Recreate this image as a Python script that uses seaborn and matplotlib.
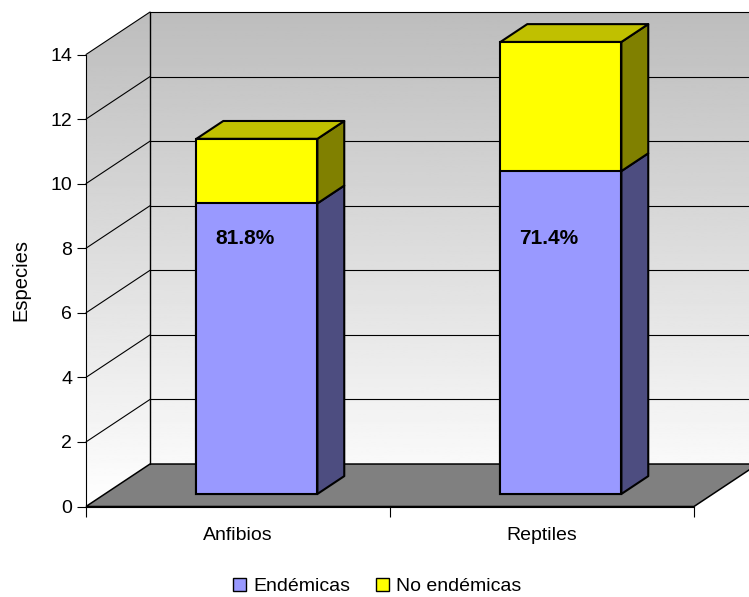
import numpy as np
import pandas as pd
import matplotlib
matplotlib.use("Agg")
import matplotlib.pyplot as plt
from matplotlib.patches import Polygon, Patch
import seaborn as sns

categories = ["Anfibios", "Reptiles"]
endemicas = [9, 10]
no_endemicas = [2, 4]
porcentajes = ["81.8%", "71.4%"]
y_ticks = [0, 2, 4, 6, 8, 10, 12, 14]

sns.set_style("white")
plt.rcParams["font.family"] = ["Liberation Sans", "DejaVu Sans"]

W, H = 749, 597
fig = plt.figure(figsize=(W / 100, H / 100), dpi=100)
ax = fig.add_axes([86 / W, 1 - 506.5 / H, 608 / W, 452 / H])
ax.patch.set_alpha(0)

# depth of the fake 3d box, in data units
depth_x = 64 / 304
depth_y = 42.5 / 32.3
# where the bars sit inside that depth
bar_start = 0.295
bar_depth = 0.42
bar_width = 0.398

xmin, xmax = -0.5, 1.5
ymin, ymax = 0, 14


def shift(x, y, d):
    return (x + d * depth_x, y + d * depth_y)


def poly(points, **kw):
    p = Polygon(points, closed=True, clip_on=False, **kw)
    ax.add_patch(p)
    return p


# walls with the grey to white gradient
walls = poly([(xmin, ymin), shift(xmin, ymin, 1), shift(xmax, ymin, 1),
              shift(xmax, ymax, 1), shift(xmin, ymax, 1), (xmin, ymax)],
             facecolor="none", edgecolor="none", zorder=0)
grad = ax.imshow(np.linspace(0.74, 1, 256).reshape(-1, 1), cmap="gray", vmin=0, vmax=1,
                 extent=[xmin, xmax + depth_x, ymin, ymax + depth_y],
                 origin="upper", aspect="auto", zorder=0)
grad.set_clip_box(fig.bbox)
grad.set_clip_path(walls)

# floor
poly([(xmin, ymin), shift(xmin, ymin, 1), shift(xmax, ymin, 1), (xmax, ymin)],
     facecolor="#808080", edgecolor="black", linewidth=1.1, zorder=1)

# grid lines on both walls
line_kw = dict(color="black", linewidth=0.8, clip_on=False, zorder=2)
for t in y_ticks[1:]:
    a = shift(xmin, t, 1)
    b = shift(xmax, t, 1)
    ax.plot([xmin, a[0]], [t, a[1]], **line_kw)
    ax.plot([a[0], b[0]], [a[1], b[1]], **line_kw)
a = shift(xmin, ymin, 1)
b = shift(xmin, ymax, 1)
ax.plot([a[0], b[0]], [a[1], b[1]], color="black", linewidth=1, clip_on=False, zorder=2)

# side and top faces of the bars
totals = [e + n for e, n in zip(endemicas, no_endemicas)]
pos = np.arange(len(categories))
for i in pos:
    left, floor = shift(pos[i] - bar_width / 2, 0, bar_start)
    right = left + bar_width
    dx = bar_depth * depth_x
    dy = bar_depth * depth_y
    face_kw = dict(edgecolor="black", linewidth=1.5, joinstyle="round", zorder=4)
    poly([(right, floor), (right + dx, floor + dy),
          (right + dx, floor + endemicas[i] + dy), (right, floor + endemicas[i])],
         facecolor="#4D4D80", **face_kw)
    poly([(right, floor + endemicas[i]), (right + dx, floor + endemicas[i] + dy),
          (right + dx, floor + totals[i] + dy), (right, floor + totals[i])],
         facecolor="#808000", **face_kw)
    poly([(left, floor + totals[i]), (left + dx, floor + totals[i] + dy),
          (right + dx, floor + totals[i] + dy), (right, floor + totals[i])],
         facecolor="#C0C000", **face_kw)

# front faces, yellow is the full stack and blue goes over it
df = pd.DataFrame({"x": pos + bar_start * depth_x, "end": endemicas, "total": totals})
floor = bar_start * depth_y
bar_kw = dict(native_scale=True, width=bar_width, saturation=1, bottom=floor,
              edgecolor="black", linewidth=1.5, zorder=5, errorbar=None, ax=ax)
sns.barplot(data=df, x="x", y="total", color="#FFFF00", **bar_kw)
sns.barplot(data=df, x="x", y="end", color="#9999FF", **bar_kw)
for bar in ax.patches:
    bar.set_clip_on(False)

for i in pos:
    ax.text(pos[i] + 0.022, 8.3, porcentajes[i], ha="center", va="center",
            fontsize=15, fontweight="bold", color="black", zorder=6)

ax.set_xlim(xmin, xmax)
ax.set_ylim(ymin, ymax)
ax.set_yticks(y_ticks)
ax.set_xticks(pos)
ax.set_xticklabels(categories)
ax.set_xticks([-0.5, 0.5, 1.5], minor=True)
ax.tick_params(axis="y", left=True, length=6.5, width=0.8, color="black", labelsize=14,
               pad=3.5, labelcolor="black")
ax.tick_params(axis="x", which="major", bottom=False, labelsize=14, pad=11, labelcolor="black")
ax.tick_params(axis="x", which="minor", bottom=True, length=7.5, width=0.8, color="black")
ax.set_xlabel("")
ax.set_ylabel("Especies", fontsize=14.5, color="black")
ax.yaxis.set_label_coords(-56 / 608, (506.5 - 280) / 452)

for s in ["top", "right"]:
    ax.spines[s].set_visible(False)
for s in ["left", "bottom"]:
    ax.spines[s].set_color("black")
    ax.spines[s].set_linewidth(0.8)
    ax.spines[s].set_zorder(3)

handles = [Patch(facecolor="#9999FF", edgecolor="black", linewidth=1, label="Endémicas"),
           Patch(facecolor="#FFFF00", edgecolor="black", linewidth=1, label="No endémicas")]
fig.legend(handles=handles, loc="center", bbox_to_anchor=(377 / W, 1 - 586.5 / H), ncol=2,
           frameon=False, fontsize=14, handlelength=0.68, handleheight=0.68,
           handletextpad=0.37, columnspacing=1.3, borderpad=0, labelcolor="black")

fig.savefig("out.png", dpi=100)
